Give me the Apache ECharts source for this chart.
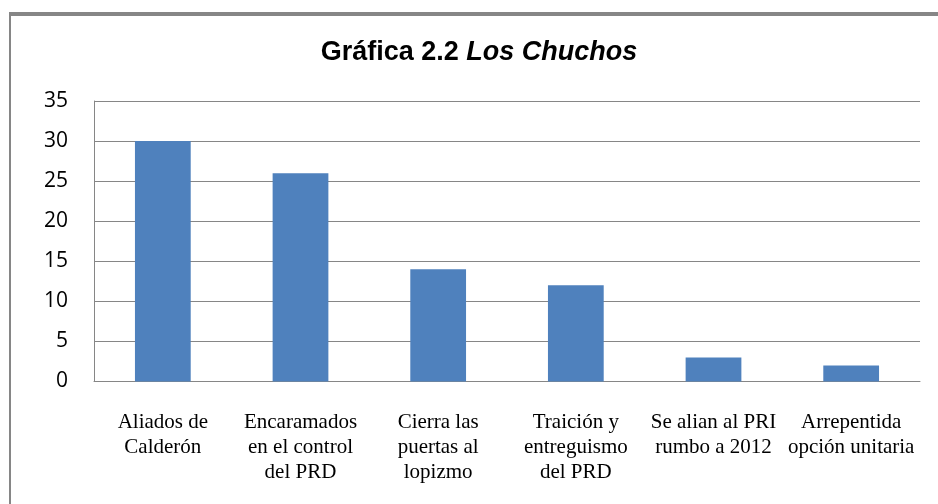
<!DOCTYPE html>
<html>
<head>
<meta charset="utf-8">
<script src="https://cdn.jsdelivr.net/npm/echarts@6/dist/echarts.min.js"></script>
<style>
  html, body { margin: 0; padding: 0; background: #fff; }
  #chart { width: 938px; height: 504px; }
</style>
</head>
<body>
<div id="chart"></div>
<script>
// datos de la gráfica
const categories = [
  'Aliados de\nCalderón',
  'Encaramados\nen el control\ndel PRD',
  'Cierra las\npuertas al\nlopizmo',
  'Traición y\nentreguismo\ndel PRD',
  'Se alian al PRI\nrumbo a 2012',
  'Arrepentida\nopción unitaria'
]
const values = [30, 26, 14, 12, 3, 2]
const yTicks = { min: 0, max: 35, interval: 5 }

const chart = echarts.init(document.getElementById('chart'))
chart.setOption({
  animation: false,
  title: {
    text: '{b|Gráfica 2.2 }{i|Los Chuchos}',
    left: 474,
    top: 34,
    textAlign: 'center',
    textStyle: {
      rich: {
        b: { fontFamily: 'Liberation Sans', fontWeight: 'bold', fontSize: 27, color: '#000' },
        i: { fontFamily: 'Liberation Sans', fontWeight: 'bold', fontStyle: 'italic', fontSize: 27, color: '#000' }
      }
    }
  },
  // marco
  graphic: [
    { type: 'rect', shape: { x: 9, y: 12, width: 940, height: 4 }, style: { fill: '#868686' } },
    { type: 'rect', shape: { x: 9, y: 12, width: 2, height: 500 }, style: { fill: '#868686' } }
  ],
  grid: {
    left: 94,
    right: 18,
    top: 101,
    bottom: 122.5,
    containLabel: false
  },
  xAxis: {
    type: 'category',
    data: categories,
    axisLine: { lineStyle: { color: '#868686', width: 1 } },
    axisTick: { show: false },
    axisLabel: {
      interval: 0,
      margin: 28,
      fontFamily: 'Liberation Serif',
      fontSize: 21,
      lineHeight: 25,
      color: '#000',
      verticalAlign: 'top'
    }
  },
  yAxis: {
    type: 'value',
    min: yTicks.min,
    max: yTicks.max,
    interval: yTicks.interval,
    axisLine: { show: true, lineStyle: { color: '#868686', width: 1 } },
    axisTick: { show: false },
    splitLine: { lineStyle: { color: '#868686', width: 1 } },
    axisLabel: {
      margin: 26,
      fontFamily: 'Open Sans',
      fontSize: 21,
      color: '#000'
    }
  },
  series: [
    {
      type: 'bar',
      data: values,
      barWidth: '40.5%',
      itemStyle: { color: '#4f81bd' }
    }
  ]
})
</script>
</body>
</html>
